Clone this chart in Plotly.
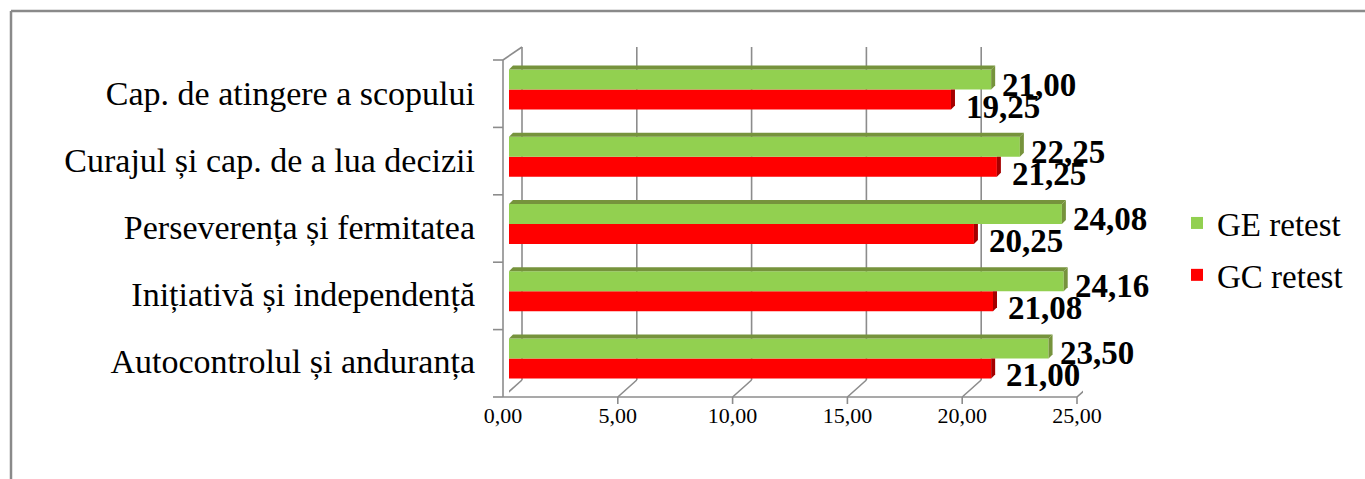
import plotly.graph_objects as go

# ---------------- data ----------------
categories = [
    "Autocontrolul și anduranța",
    "Inițiativă și independență",
    "Perseverența și fermitatea",
    "Curajul și cap. de a lua decizii",
    "Cap. de atingere a scopului",
]
ge_retest = [23.50, 24.16, 24.08, 22.25, 21.00]
gc_retest = [21.00, 21.08, 20.25, 21.25, 19.25]
x_ticks = [0, 5, 10, 15, 20, 25]
name_ge = "GE retest"
name_gc = "GC retest"

# ---------------- style / layout constants ----------------
W, H = 1365, 479
L, R, T, B = 509, 1083, 56, 392          # plot area in pixels
GREEN, RED = "#92D050", "#FF0000"
GREEN_DARK, RED_DARK = "#76933C", "#A50000"
GRID = "#8C8C8C"
FONT = "Liberation Serif"
BARGAP = 0.405
PX_PER_UNIT = (R - L) / 25.0


def xp(p):
    return (p - L) / (R - L)


def yp(p):
    return (B - p) / (B - T)


def fmt(v):
    return f"{v:.2f}".replace(".", ",")


fig = go.Figure()
fig.add_trace(go.Bar(
    y=categories, x=gc_retest, name=name_gc, orientation="h",
    marker=dict(color=RED, line=dict(width=0)), legendgroup="gc", legendrank=2,
))
fig.add_trace(go.Bar(
    y=categories, x=ge_retest, name=name_ge, orientation="h",
    marker=dict(color=GREEN, line=dict(width=0)), legendgroup="ge", legendrank=1,
))

half = (1 - BARGAP) / 4.0          # offset of each bar centre from category centre
hpx = 10                            # half bar thickness in pixels
d = 4                               # 3D depth in pixels
d_data = d / PX_PER_UNIT

annotations = []
shapes = []
for i, cat in enumerate(categories):
    # data labels
    annotations.append(dict(
        x=ge_retest[i], y=i + half, xref="x", yref="y", text=fmt(ge_retest[i]),
        showarrow=False, xanchor="left", yanchor="middle", xshift=9, yshift=-5,
        font=dict(family=FONT, size=33, color="black", weight="bold"),
    ))
    annotations.append(dict(
        x=gc_retest[i], y=i - half, xref="x", yref="y", text=fmt(gc_retest[i]),
        showarrow=False, xanchor="left", yanchor="middle", xshift=13, yshift=-7,
        font=dict(family=FONT, size=33, color="black", weight="bold"),
    ))
    # 3D faces: green top strip + side, red side
    shapes.append(dict(
        type="path", xref="x", yref="y", ysizemode="pixel", yanchor=i + half,
        path=f"M0,{hpx} L{ge_retest[i]},{hpx} L{ge_retest[i] + d_data},{hpx + d} L{d_data},{hpx + d} Z",
        fillcolor=GREEN_DARK, line=dict(width=0), layer="above",
    ))
    shapes.append(dict(
        type="path", xref="x", yref="y", xsizemode="pixel", xanchor=ge_retest[i],
        ysizemode="pixel", yanchor=i + half,
        path=f"M0,{hpx} L{d},{hpx + d} L{d},{-hpx + d} L0,{-hpx} Z",
        fillcolor=GREEN_DARK, line=dict(width=0), layer="above",
    ))
    shapes.append(dict(
        type="path", xref="x", yref="y", xsizemode="pixel", xanchor=gc_retest[i],
        ysizemode="pixel", yanchor=i - half,
        path=f"M0,{hpx} L{d},{hpx} L{d},{-hpx + d} L0,{-hpx} Z",
        fillcolor=RED_DARK, line=dict(width=0), layer="above",
    ))

# 3D-like frame
line = dict(color=GRID, width=1.6)
for t in x_ticks:
    shapes.append(dict(type="line", xref="x", xsizemode="pixel", xanchor=t,
                       x0=13, x1=13, yref="paper", y0=yp(380), y1=yp(47), line=line, layer="below"))
    shapes.append(dict(type="line", xref="x", xsizemode="pixel", xanchor=t,
                       x0=-6, x1=13, yref="paper", y0=yp(397), y1=yp(380), line=line, layer="below"))
    shapes.append(dict(type="line", xref="x", xsizemode="pixel", xanchor=t,
                       x0=-6, x1=-6, yref="paper", y0=yp(397), y1=yp(404), line=line))
shapes.append(dict(type="line", xref="paper", yref="paper",
                   x0=xp(503), x1=xp(1077), y0=yp(397), y1=yp(397), line=line))
shapes.append(dict(type="line", xref="paper", yref="paper",
                   x0=xp(503), x1=xp(503), y0=yp(60), y1=yp(397), line=line))
shapes.append(dict(type="line", xref="paper", yref="paper",
                   x0=xp(503), x1=xp(522), y0=yp(60), y1=yp(47), line=line))
n = len(categories)
for k in range(n + 1):
    yy = 60 + k * (397 - 60) / n
    shapes.append(dict(type="line", xref="paper", yref="paper",
                       x0=xp(493), x1=xp(503), y0=yp(yy), y1=yp(yy), line=line))
# chart border (left and top visible)
border = dict(color="#8A8A8A", width=2.5)
shapes.append(dict(type="line", xref="paper", yref="paper",
                   x0=xp(11), x1=xp(11), y0=yp(11), y1=yp(H + 10), line=border))
shapes.append(dict(type="line", xref="paper", yref="paper",
                   x0=xp(11), x1=xp(W + 10), y0=yp(11), y1=yp(11), line=border))

fig.update_layout(
    width=W, height=H,
    margin=dict(l=L, r=W - R, t=T, b=H - B, pad=0),
    plot_bgcolor="white", paper_bgcolor="white",
    barmode="group", bargap=BARGAP, bargroupgap=0,
    separators=",.",
    font=dict(family=FONT, color="black"),
    showlegend=True,
    legend=dict(
        x=xp(1177), y=yp(249), xanchor="left", yanchor="middle",
        xref="paper", yref="paper",
        traceorder="grouped", tracegroupgap=6,
        font=dict(family=FONT, size=33, color="black"),
        bgcolor="rgba(0,0,0,0)",
    ),
    annotations=annotations,
    shapes=shapes,
)
fig.update_xaxes(
    range=[0, 25], tickvals=x_ticks, tickformat=".2f",
    showgrid=False, zeroline=False, showline=False, ticks="",
    tickfont=dict(family=FONT, size=22, color="black"),
    ticklabelshift=-6, ticklabelstandoff=8,
)
fig.update_yaxes(
    type="category", categoryorder="array", categoryarray=categories,
    range=[-0.5, len(categories) - 0.5],
    showgrid=False, zeroline=False, showline=False, ticks="",
    tickfont=dict(family=FONT, size=34, color="black"),
    ticklabelstandoff=33, ticklabelshift=3,
)

fig.write_html("out.html", config={"displayModeBar": False},
               post_script="document.body.style.margin='0';")
